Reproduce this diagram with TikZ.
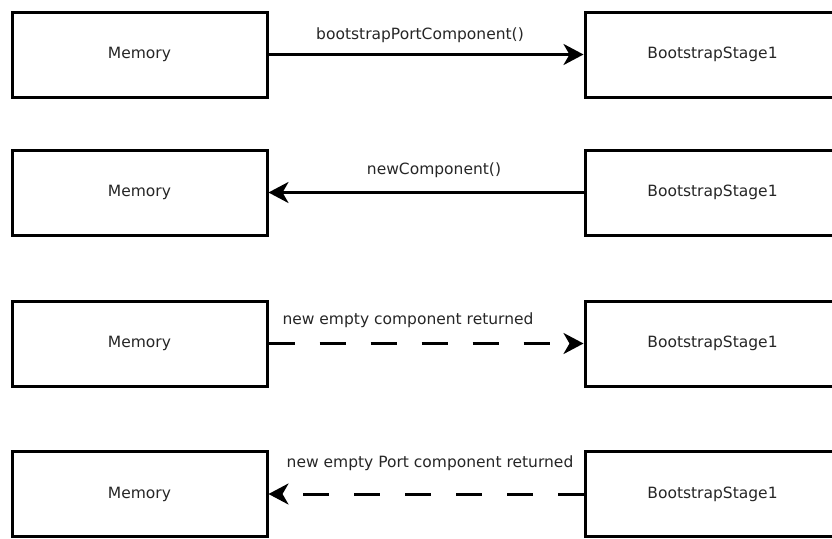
\documentclass[tikz,border=0pt]{standalone}
\usepackage{fontspec}
\setmainfont{DejaVu Sans}
\usetikzlibrary{arrows.meta}

\definecolor{textgray}{HTML}{262626}

\tikzset{
  box/.style={draw=black, fill=white, line width=3pt, minimum width=255pt,
    minimum height=85pt, inner sep=0pt, text=textgray,
    font=\fontsize{15.5}{18}\selectfont},
  msg/.style={line width=3pt, -{Stealth[length=20pt, width=21pt, inset=6pt]}},
  reply/.style={msg, dash pattern=on 26pt off 25pt},
  lbl/.style={inner sep=0pt, text=textgray, font=\fontsize{15.5}{18}\selectfont}
}

\begin{document}
\begin{tikzpicture}[x=1pt, y=-1pt]
  \useasboundingbox (0,0) rectangle (832,538);
  \clip (0,0) rectangle (832,538);

  % participants, one pair per exchange
  \node[box] (m1) at (139.5,54.5) {Memory};
  \node[box] (b1) at (712.5,54.5) {BootstrapStage1};
  \node[box] (m2) at (139.5,192.5) {Memory};
  \node[box] (b2) at (712.5,192.5) {BootstrapStage1};
  \node[box] (m3) at (139.5,343.5) {Memory};
  \node[box] (b3) at (712.5,343.5) {BootstrapStage1};
  \node[box] (m4) at (139.5,494) {Memory};
  \node[box] (b4) at (712.5,494) {BootstrapStage1};

  % calls and returns
  \draw[msg] (m1.east) -- (b1.west);
  \draw[msg] (b2.west) -- (m2.east);
  \draw[reply] (m3.east) -- (b3.west);
  \draw[reply] (b4.west) -- (m4.east);

  % message labels
  \node[lbl] (l1) at (420,35) {bootstrapPortComponent()};
  \node[lbl] (l2) at (434,170) {newComponent()};
  \node[lbl] (l3) at (408,320) {new empty component returned};
  \node[lbl] (l4) at (430,463) {new empty Port component returned};
\end{tikzpicture}
\end{document}
